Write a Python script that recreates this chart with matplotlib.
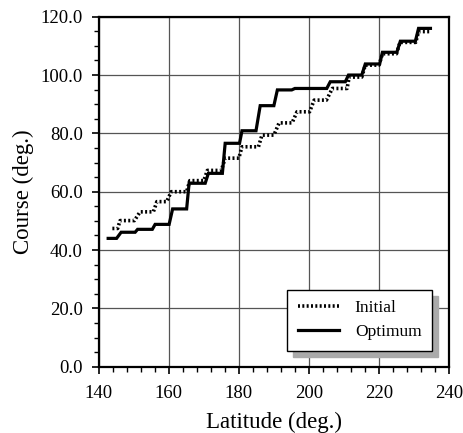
import matplotlib.pyplot as plt
from matplotlib.ticker import MultipleLocator, FormatStrFormatter

plt.rcParams['font.family'] = ['Liberation Serif', 'DejaVu Serif']

# Initial course profile (step vertices: latitude, course)
init_lat = [143.9, 145.4, 146.1, 150.2, 151.8, 155.6, 156.6, 159.4, 160.7,
            165.1, 166.0, 170.0, 171.0, 175.0, 176.1, 180.0, 180.9, 185.6,
            186.6, 190.0, 191.5, 195.2, 196.6, 200.2, 201.5, 205.0, 206.7,
            210.9, 211.5, 215.1, 216.1, 220.0, 221.0, 225.0, 226.0, 230.5,
            231.3, 234.7]
init_course = [47.4, 47.4, 50.1, 50.1, 53.1, 53.1, 56.6, 56.6, 60.0,
               60.0, 63.8, 63.8, 67.3, 67.3, 71.5, 71.5, 75.4, 75.4,
               79.4, 79.4, 83.6, 83.6, 87.4, 87.4, 91.4, 91.4, 95.4,
               95.4, 99.3, 99.3, 103.4, 103.4, 107.3, 107.3, 111.2, 111.2,
               114.9, 114.9]

# Optimum course profile
opt_lat = [142.7, 145.1, 146.4, 150.4, 151.1, 155.3, 156.1, 160.1, 161.1,
           165.1, 165.8, 170.4, 171.3, 175.3, 176.1, 180.2, 180.9, 184.9,
           186.1, 190.0, 191.0, 195.1, 196.0, 205.1, 206.1, 210.4, 211.3,
           215.1, 216.1, 220.2, 221.0, 225.1, 226.1, 230.4, 231.3, 234.7]
opt_course = [44.0, 44.0, 46.1, 46.1, 47.1, 47.1, 48.8, 48.8, 54.1,
              54.1, 62.9, 62.9, 66.3, 66.3, 76.6, 76.6, 80.9, 80.9,
              89.5, 89.5, 94.9, 94.9, 95.4, 95.4, 97.7, 97.7, 100.0,
              100.0, 103.8, 103.8, 107.8, 107.8, 111.6, 111.6, 116.0, 116.0]

fig = plt.figure(figsize=(4.63, 4.33), dpi=100)
ax = fig.add_axes([0.2132, 0.1531, 0.7566, 0.8083])

ax.plot(init_lat, init_course, color='black', linewidth=2.6,
        linestyle=(0, (0.55, 0.65)), dash_capstyle='butt', label='Initial')
ax.plot(opt_lat, opt_course, color='black', linewidth=2.3,
        solid_joinstyle='miter', label='Optimum')

ax.set_xlim(140, 240)
ax.set_ylim(0, 120)
ax.xaxis.set_major_locator(MultipleLocator(20))
ax.xaxis.set_minor_locator(MultipleLocator(4))
ax.yaxis.set_major_locator(MultipleLocator(20))
ax.yaxis.set_minor_locator(MultipleLocator(5))
ax.yaxis.set_major_formatter(FormatStrFormatter('%.1f'))
ax.tick_params(which='major', direction='out', length=5, width=1.2,
               labelsize=13.5)
ax.tick_params(axis='x', which='major', pad=8.5)
ax.tick_params(axis='y', which='major', pad=6.5)
ax.tick_params(which='minor', direction='out', length=3.3, width=1.0)
ax.grid(True, which='major', color='#555555', linewidth=0.9)
for s in ax.spines.values():
    s.set_linewidth(1.6)

ax.set_xlabel('Latitude (deg.)', fontsize=16.5, labelpad=7)
ax.set_ylabel('Course (deg.)', fontsize=16.5, labelpad=4.5)

leg = ax.legend(loc='lower right', bbox_to_anchor=(0.951, 0.046),
                borderaxespad=0, fancybox=False, framealpha=1,
                edgecolor='black', fontsize=12.5, handlelength=2.4,
                handletextpad=0.9, borderpad=0.6, labelspacing=0.45,
                shadow={'ox': 4.5, 'oy': -4.5, 'color': '#aaaaaa', 'alpha': 1})
leg.get_frame().set_linewidth(1.0)

fig.savefig('out.png', dpi=100)
